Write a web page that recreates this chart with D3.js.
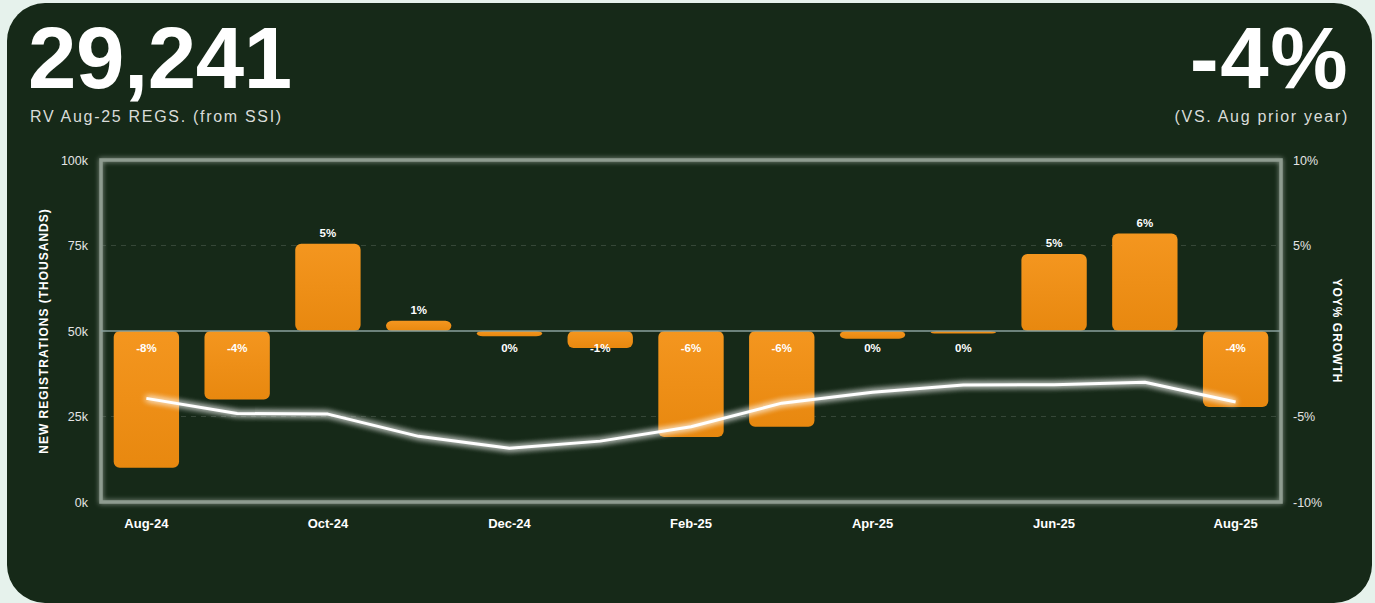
<!DOCTYPE html>
<html>
<head>
<meta charset="utf-8">
<script src="https://cdn.jsdelivr.net/npm/d3@7"></script>
<style>
  html, body { margin: 0; padding: 0; background: #e6f2ec; }
  svg { display: block; font-family: "Liberation Sans", Arial, Helvetica, sans-serif; }
</style>
</head>
<body>
<svg id="chart"></svg>
<script>
const width = 1375, height = 603;

// monthly data
const months = ["Aug-24", "Sep-24", "Oct-24", "Nov-24", "Dec-24", "Jan-25", "Feb-25",
                "Mar-25", "Apr-25", "May-25", "Jun-25", "Jul-25", "Aug-25"];
const regsK = [30.3, 25.9, 25.7, 19.2, 15.7, 17.8, 22.0, 28.9, 32.1, 34.2, 34.3, 35.0, 29.241];
const yoyPct = [-8.0, -4.0, 5.1, 0.6, -0.3, -1.0, -6.2, -5.6, -0.45, -0.15, 4.5, 5.7, -4.45];
const xTickLabels = ["Aug-24", "Oct-24", "Dec-24", "Feb-25", "Apr-25", "Jun-25", "Aug-25"];
const leftTicks = [0, 25, 50, 75, 100];
const rightTicks = [-10, -5, 5, 10];

const headline = "29,241";
const headlineSub = "RV Aug-25 REGS. (from SSI)";
const growth = "-4%";
const growthSub = "(VS. Aug prior year)";

const plot = { left: 101, right: 1281, top: 160, bottom: 502 };

const svg = d3.select("#chart")
    .attr("width", width)
    .attr("height", height);

const defs = svg.append("defs");

const grad = defs.append("linearGradient")
    .attr("id", "barGrad").attr("x1", 0).attr("y1", 0).attr("x2", 0).attr("y2", 1);
grad.append("stop").attr("offset", "0%").attr("stop-color", "#f4961f");
grad.append("stop").attr("offset", "100%").attr("stop-color", "#e8880f");

const glow = defs.append("filter").attr("id", "glow")
    .attr("x", "-5%").attr("y", "-20%").attr("width", "110%").attr("height", "140%");
glow.append("feGaussianBlur").attr("stdDeviation", 3).attr("result", "b");
const gm = glow.append("feMerge");
gm.append("feMergeNode").attr("in", "b");
gm.append("feMergeNode").attr("in", "b");
gm.append("feMergeNode").attr("in", "SourceGraphic");

const frameGlow = defs.append("filter").attr("id", "frameGlow")
    .attr("x", "-5%").attr("y", "-5%").attr("width", "110%").attr("height", "110%");
frameGlow.append("feGaussianBlur").attr("stdDeviation", 2.5).attr("result", "b");
const fm = frameGlow.append("feMerge");
fm.append("feMergeNode").attr("in", "b");
fm.append("feMergeNode").attr("in", "SourceGraphic");

// card
svg.append("rect")
    .attr("x", 7).attr("y", 3)
    .attr("width", 1365).attr("height", 640)
    .attr("rx", 38)
    .attr("fill", "#162918");
// round the bottom corners like the reference
svg.append("path")
    .attr("d", "M0,565 L0,603 L45,603 A38,38 0 0 1 7,565 Z M1375,565 L1375,603 L1334,603 A38,38 0 0 0 1372,565 Z")
    .attr("fill", "#e6f2ec");

// header
svg.append("text")
    .attr("x", 28).attr("y", 88)
    .attr("fill", "#fff")
    .attr("font-size", 87).attr("font-weight", "bold")
    .attr("letter-spacing", -0.4)
    .text(headline);
svg.append("text")
    .attr("x", 30).attr("y", 122)
    .attr("fill", "#d9dcd9")
    .attr("font-size", 16)
    .attr("letter-spacing", 1.7)
    .text(headlineSub);
svg.append("text")
    .attr("x", 1349).attr("y", 88)
    .attr("text-anchor", "end")
    .attr("fill", "#fff")
    .attr("font-size", 87).attr("font-weight", "bold")
    .attr("letter-spacing", 1.5)
    .text(growth);
svg.append("text")
    .attr("x", 1349).attr("y", 122)
    .attr("text-anchor", "end")
    .attr("fill", "#d9dcd9")
    .attr("font-size", 16)
    .attr("letter-spacing", 1.7)
    .text(growthSub);

// scales
const x = d3.scaleBand()
    .domain(months)
    .range([plot.left, plot.right])
    .paddingInner(0.28)
    .paddingOuter(0.14);

const yLeft = d3.scaleLinear().domain([0, 100]).range([plot.bottom, plot.top]);
const yRight = d3.scaleLinear().domain([-10, 10]).range([plot.bottom, plot.top]);

// grid lines
svg.append("g")
    .selectAll("line")
    .data([25, 75])
    .join("line")
    .attr("x1", plot.left).attr("x2", plot.right)
    .attr("y1", d => yLeft(d)).attr("y2", d => yLeft(d))
    .attr("stroke", "rgba(255,255,255,0.14)")
    .attr("stroke-dasharray", "5,5");

// frame
svg.append("rect")
    .attr("x", plot.left).attr("y", plot.top)
    .attr("width", plot.right - plot.left).attr("height", plot.bottom - plot.top)
    .attr("fill", "none")
    .attr("stroke", "#8e9c90")
    .attr("stroke-width", 3.5)
    .attr("filter", "url(#frameGlow)");

// left axis
const leftAxis = svg.append("g")
    .attr("transform", `translate(${plot.left - 10},0)`)
    .call(d3.axisLeft(yLeft).tickValues(leftTicks).tickSize(0).tickFormat(d => d + "k"));
leftAxis.select(".domain").remove();
leftAxis.selectAll("text")
    .attr("fill", "#e4e4e4")
    .attr("font-size", 12.5)
    .attr("font-family", "Liberation Sans, Arial, sans-serif");

// right axis
const rightAxis = svg.append("g")
    .attr("transform", `translate(${plot.right + 9},0)`)
    .call(d3.axisRight(yRight).tickValues(rightTicks).tickSize(0).tickFormat(d => d + "%"));
rightAxis.select(".domain").remove();
rightAxis.selectAll("text")
    .attr("fill", "#e4e4e4")
    .attr("font-size", 12.5)
    .attr("font-family", "Liberation Sans, Arial, sans-serif");

// x axis labels
const xAxis = svg.append("g")
    .attr("transform", `translate(0,${plot.bottom + 14})`)
    .call(d3.axisBottom(x).tickValues(xTickLabels).tickSize(0));
xAxis.select(".domain").remove();
xAxis.selectAll("text")
    .attr("fill", "#fff")
    .attr("font-size", 13)
    .attr("font-weight", "bold")
    .attr("font-family", "Liberation Sans, Arial, sans-serif");

// axis titles
svg.append("text")
    .attr("transform", `translate(48,${(plot.top + plot.bottom) / 2}) rotate(-90)`)
    .attr("text-anchor", "middle")
    .attr("fill", "#fff")
    .attr("font-size", 12).attr("font-weight", "bold")
    .attr("letter-spacing", 1)
    .text("NEW REGISTRATIONS (THOUSANDS)");
svg.append("text")
    .attr("transform", `translate(1333,${(plot.top + plot.bottom) / 2}) rotate(90)`)
    .attr("text-anchor", "middle")
    .attr("fill", "#fff")
    .attr("font-size", 12).attr("font-weight", "bold")
    .attr("letter-spacing", 1)
    .text("YOY% GROWTH");

const rows = months.map((m, i) => ({ month: m, regs: regsK[i], yoy: yoyPct[i] }));

// bars
svg.append("g")
    .selectAll("rect")
    .data(rows)
    .join("rect")
    .attr("x", d => x(d.month))
    .attr("width", x.bandwidth())
    .attr("y", d => Math.min(yRight(0), yRight(d.yoy)))
    .attr("height", d => Math.abs(yRight(d.yoy) - yRight(0)))
    .attr("rx", 6)
    .attr("fill", "url(#barGrad)");

// zero line
svg.append("line")
    .attr("x1", plot.left).attr("x2", plot.right)
    .attr("y1", yRight(0)).attr("y2", yRight(0))
    .attr("stroke", "#8aa09c")
    .attr("stroke-width", 1.5);

// bar labels
svg.append("g")
    .selectAll("text")
    .data(rows)
    .join("text")
    .attr("x", d => x(d.month) + x.bandwidth() / 2)
    .attr("y", d => d.yoy > 0 ? yRight(d.yoy) - 7 : yRight(0) + 21)
    .attr("text-anchor", "middle")
    .attr("fill", "#fff")
    .attr("font-size", 11.5).attr("font-weight", "bold")
    .text(d => `${Math.round(d.yoy) || 0}%`);

// registrations line
const line = d3.line()
    .x(d => x(d.month) + x.bandwidth() / 2)
    .y(d => yLeft(d.regs));

svg.append("path")
    .datum(rows)
    .attr("d", line)
    .attr("fill", "none")
    .attr("stroke", "#ffffff")
    .attr("stroke-width", 3)
    .attr("stroke-linejoin", "round")
    .attr("filter", "url(#glow)");
</script>
</body>
</html>
